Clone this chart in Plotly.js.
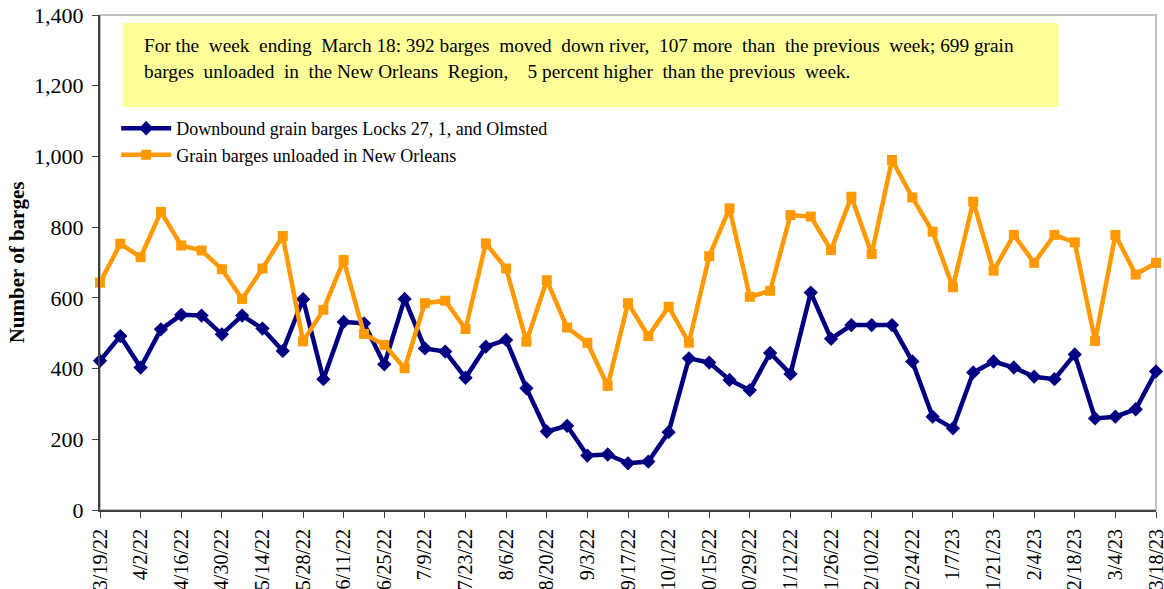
<!DOCTYPE html>
<html>
<head>
<meta charset="utf-8">
<script src="https://cdn.plot.ly/plotly-3.0.1.min.js"></script>
<style>
html,body{margin:0;padding:0;overflow:hidden;background:#fff;}
#chart{width:1164px;height:589px;}
</style>
</head>
<body>
<div id="chart"></div>
<script>
const weeks = ["3/19/22","3/26/22","4/2/22","4/9/22","4/16/22","4/23/22","4/30/22","5/7/22","5/14/22","5/21/22",
"5/28/22","6/4/22","6/11/22","6/18/22","6/25/22","7/2/22","7/9/22","7/16/22","7/23/22","7/30/22",
"8/6/22","8/13/22","8/20/22","8/27/22","9/3/22","9/10/22","9/17/22","9/24/22","10/1/22","10/8/22",
"10/15/22","10/22/22","10/29/22","11/5/22","11/12/22","11/19/22","11/26/22","12/3/22","12/10/22","12/17/22",
"12/24/22","12/31/22","1/7/23","1/14/23","1/21/23","1/28/23","2/4/23","2/11/23","2/18/23","2/25/23",
"3/4/23","3/11/23","3/18/23"];

const tickLabels = ["3/19/22","4/2/22","4/16/22","4/30/22","5/14/22","5/28/22","6/11/22","6/25/22","7/9/22",
"7/23/22","8/6/22","8/20/22","9/3/22","9/17/22","10/1/22","10/15/22","10/29/22","11/12/22","11/26/22",
"12/10/22","12/24/22","1/7/23","1/21/23","2/4/23","2/18/23","3/4/23","3/18/23"];

const downbound = [422,492,403,511,552,550,497,550,513,450,
596,370,532,528,412,597,457,448,374,462,
481,344,222,238,154,157,132,137,220,429,
417,368,339,444,385,615,484,523,523,523,
420,264,231,389,420,403,377,370,440,259,
264,285,392];

const unloaded = [643,753,715,843,748,734,681,597,683,775,
477,566,707,498,467,401,585,592,512,754,
683,476,650,516,473,351,585,492,575,473,
718,853,603,620,834,830,735,886,724,990,
884,787,630,872,677,778,699,778,757,478,
778,666,699];

const seriesNames = ["Downbound grain barges Locks 27, 1, and Olmsted","Grain barges unloaded in New Orleans"];
const noteLine1 = "For the  week  ending  March 18: 392 barges  moved  down river,  107 more  than  the previous  week; 699 grain";
const noteLine2 = "barges  unloaded  in  the New Orleans  Region,    5 percent higher  than the previous  week.";

const serif = "Liberation Serif, Times New Roman, serif";

const traces = [
  {x: weeks, y: downbound, name: seriesNames[0], type: "scatter", mode: "lines+markers",
   line: {color: "#000080", width: 4.5}, marker: {symbol: "diamond", size: 11, color: "#000080"}, cliponaxis: false},
  {x: weeks, y: unloaded, name: seriesNames[1], type: "scatter", mode: "lines+markers",
   line: {color: "#FF9900", width: 4.5}, marker: {symbol: "square", size: 10, color: "#FF9900"}, cliponaxis: false}
];

const layout = {
  width: 1164, height: 589,
  margin: {l: 100, r: 8, t: 15, b: 79},
  paper_bgcolor: "#fff", plot_bgcolor: "#fff",
  font: {family: serif, color: "#000"},
  showlegend: true,
  legend: {x: 0.0153, y: 0.808, xanchor: "left", yanchor: "top", bgcolor: "rgba(0,0,0,0)",
           font: {family: serif, size: 18, color: "#000"}, itemwidth: 50, tracegroupgap: 0},
  xaxis: {type: "category", categoryorder: "array", categoryarray: weeks,
          range: [0, weeks.length - 1], tickmode: "array", tickvals: tickLabels, ticktext: tickLabels,
          tickangle: -90, tickfont: {family: serif, size: 20, color: "#000"},
          ticks: "outside", ticklen: 6, tickcolor: "#404040", tickwidth: 1, ticklabelstandoff: 3,
          showline: true, linecolor: "#404040", linewidth: 2, showgrid: false, zeroline: false,
          automargin: false, fixedrange: true},
  yaxis: {range: [0, 1400], tickvals: [0,200,400,600,800,1000,1200,1400], tickformat: ",",
          tickfont: {family: serif, size: 22, color: "#000"},
          ticks: "outside", ticklen: 6, tickcolor: "#404040", tickwidth: 1, ticklabelstandoff: 4,
          showline: true, linecolor: "#404040", linewidth: 2, showgrid: false, zeroline: false,
          title: {text: "<b>Number of barges</b>", font: {family: serif, size: 21, color: "#000"}, standoff: 4},
          automargin: false, fixedrange: true},
  shapes: [
    {type: "rect", xref: "paper", yref: "paper", x0: 0, x1: 1, y0: 0, y1: 1,
     line: {color: "#C0C0C0", width: 2}, fillcolor: "rgba(0,0,0,0)", layer: "below"},
    {type: "rect", xref: "paper", yref: "paper", x0: 0.0218, x1: 0.908, y0: 0.814, y1: 0.984,
     line: {width: 0}, fillcolor: "#FFFF99", layer: "below"}
  ],
  annotations: [
    {xref: "paper", yref: "paper", x: 0.0398, y: 0.939, xanchor: "left", yanchor: "middle",
     text: noteLine1, showarrow: false, font: {family: serif, size: 19.3, color: "#000"}},
    {xref: "paper", yref: "paper", x: 0.0398, y: 0.886, xanchor: "left", yanchor: "middle",
     text: noteLine2, showarrow: false, font: {family: serif, size: 19.3, color: "#000"}}
  ]
};

Plotly.newPlot("chart", traces, layout, {displayModeBar: false, staticPlot: true});
</script>
</body>
</html>
